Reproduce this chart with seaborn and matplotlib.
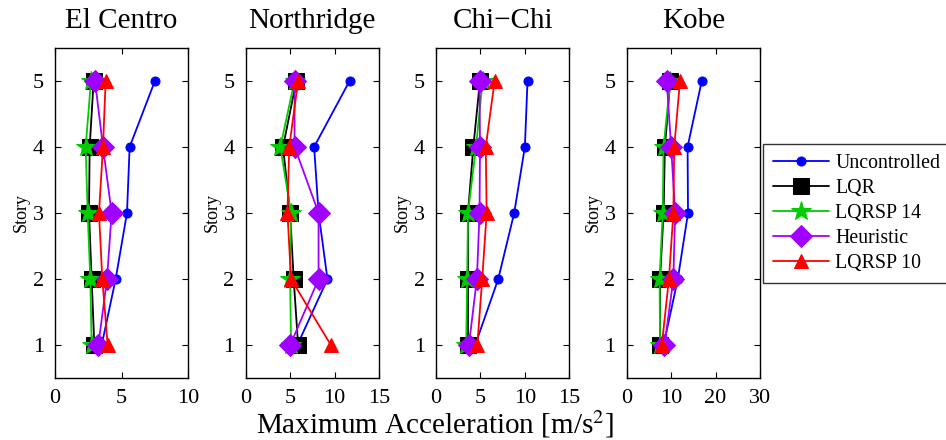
import numpy as np
import pandas as pd
import matplotlib
matplotlib.use("Agg")
import matplotlib.pyplot as plt
import seaborn as sns

sns.set_style("ticks")
plt.rcParams['font.family'] = ['Liberation Serif', 'DejaVu Serif']
plt.rcParams['mathtext.fontset'] = 'stix'
plt.rcParams['text.color'] = 'black'
plt.rcParams['axes.labelcolor'] = 'black'
plt.rcParams['xtick.color'] = 'black'
plt.rcParams['ytick.color'] = 'black'

stories = [1, 2, 3, 4, 5]
quakes = ["El Centro", "Northridge", "Chi\u2212Chi", "Kobe"]
xlims = [10, 15, 15, 30]
xticks = [[0, 5, 10], [0, 5, 10, 15], [0, 5, 10, 15], [0, 10, 20, 30]]

# values per story 1..5
uncontrolled = [[3.5, 4.55, 5.4, 5.6, 7.5],
                [5.8, 9.2, 8.2, 7.7, 11.7],
                [4.4, 7.0, 8.8, 10.0, 10.3],
                [8.3, 11.5, 13.8, 13.7, 16.9]]
lqr = [[2.95, 2.75, 2.55, 2.6, 2.9],
       [5.9, 5.4, 5.0, 4.2, 5.7],
       [3.6, 3.6, 3.6, 4.2, 4.95],
       [7.5, 7.5, 8.3, 8.6, 9.8]]
lqrsp14 = [[2.75, 2.65, 2.45, 2.3, 2.7],
           [5.1, 5.0, 5.1, 3.9, 5.5],
           [3.4, 3.5, 3.6, 4.5, 5.25],
           [7.5, 7.4, 8.1, 8.3, 9.8]]
heuristic = [[3.25, 3.9, 4.25, 3.6, 3.0],
             [5.0, 8.2, 8.2, 5.5, 5.5],
             [3.7, 4.6, 4.9, 4.95, 4.9],
             [8.5, 10.5, 10.9, 10.0, 9.0]]
lqrsp10 = [[3.95, 3.55, 3.3, 3.6, 3.8],
           [9.6, 5.1, 4.7, 4.9, 5.9],
           [4.65, 5.2, 5.7, 5.6, 6.6],
           [7.9, 9.5, 10.5, 10.7, 12.0]]

series_names = ["Uncontrolled", "LQR", "LQRSP 14", "Heuristic", "LQRSP 10"]
series_data = [uncontrolled, lqr, lqrsp14, heuristic, lqrsp10]
colors = ["#0000ff", "#000000", "#00cc00", "#a000ff", "#ff0000"]
markers = ["o", "s", "*", "D", "^"]
msizes = [6.5, 12, 15, 11, 9.5]

W, H = 946, 440
fig = plt.figure(figsize=(W / 100, H / 100), dpi=100)
lefts = [55, 245.7, 436, 626.7]
ax_w = 133.3
top_px, bot_px = 47.7, 378.3

axes = []
for i, q in enumerate(quakes):
    ax = fig.add_axes([lefts[i] / W, 1 - bot_px / H, ax_w / W, (bot_px - top_px) / H])
    axes.append(ax)
    for name, data, c, m, ms in zip(series_names, series_data, colors, markers, msizes):
        df = pd.DataFrame({"acc": data[i], "story": stories})
        sns.lineplot(data=df, x="acc", y="story", orient="y", sort=False, ax=ax,
                     color=c, marker=m, markersize=ms, markeredgecolor=c,
                     markerfacecolor=c, linewidth=1.3, label=name, legend=False)
    ax.set_xlim(0, xlims[i])
    ax.set_ylim(0.5, 5.5)
    ax.set_xticks(xticks[i])
    ax.set_yticks(stories)
    ax.set_title(q, fontsize=21, pad=14)
    ax.set_ylabel("Story", fontsize=13, labelpad=2)
    ax.set_xlabel("")
    ax.tick_params(direction="in", top=True, right=True, labelsize=16, length=4,
                   width=0.8, pad=8)
    for s in ax.spines.values():
        s.set_linewidth(1.0)
        s.set_color("black")

fig.text(435 / W, 1 - 424 / H,
         "Maximum Acceleration [m/s$^2$]", ha="center", va="center", fontsize=21)

handles, labels = axes[0].get_legend_handles_labels()
leg = fig.legend(handles, labels, loc="upper left", bbox_to_anchor=(763 / W, 1 - 144.3 / H),
                 fontsize=14.3, frameon=True, fancybox=False, edgecolor="black",
                 handlelength=2.8, labelspacing=0.3, borderpad=0.5, handletextpad=0.35,
                 borderaxespad=0)
leg.get_frame().set_linewidth(1.0)

fig.savefig("out.png", dpi=100)
